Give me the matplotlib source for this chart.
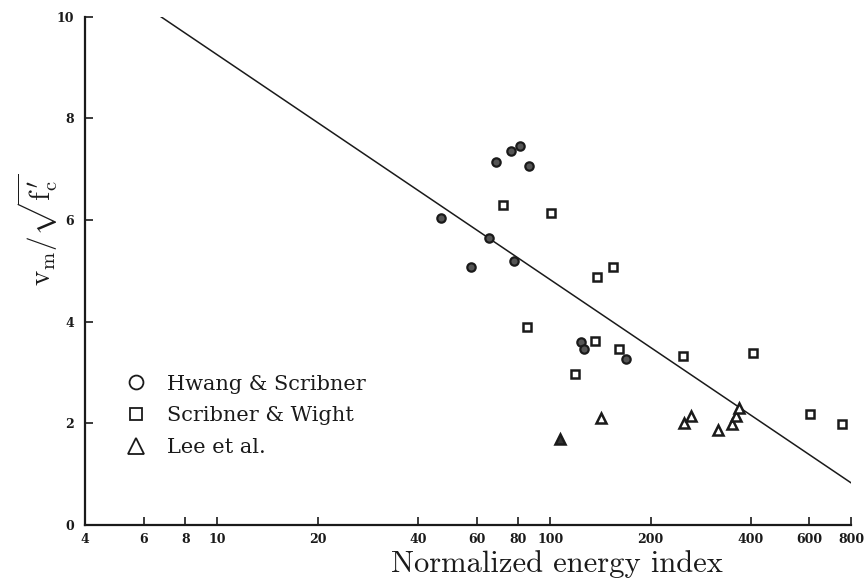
import matplotlib
matplotlib.use("Agg")
import matplotlib.pyplot as plt
from matplotlib.lines import Line2D

plt.rcParams['mathtext.fontset'] = 'cm'

# Hwang & Scribner (circles)
hs_x = [80.9, 76.4, 68.5, 86.1, 47.0, 65.5, 57.8, 77.8, 123.6, 125.9, 168.2]
hs_y = [7.46, 7.35, 7.14, 7.06, 6.03, 5.64, 5.08, 5.19, 3.60, 3.46, 3.27]

# Scribner & Wight (squares)
sw_x = [72.3, 100.7, 153.8, 138.1, 85.0, 118.9, 135.8, 161.1, 250.6, 406.4, 602.6, 750.3]
sw_y = [6.30, 6.14, 5.08, 4.87, 3.89, 2.98, 3.62, 3.46, 3.33, 3.38, 2.18, 1.99]

# Lee et al. (triangles)
lee_x = [106.6, 141.9, 251.2, 264.3, 319.9, 351.0, 361.4, 369.8]
lee_y = [1.69, 2.10, 2.00, 2.15, 1.86, 1.98, 2.14, 2.30]

# fitted line
fit_x = [6.76, 800]
fit_y = [10.0, 0.83]

xticks = [4, 6, 8, 10, 20, 40, 60, 80, 100, 200, 400, 600, 800]
yticks = [0, 2, 4, 6, 8, 10]

ink = '#1a1a1a'

fig = plt.figure(figsize=(8.64, 5.83), dpi=100)
ax = fig.add_axes([85/864, 58/583, (851-85)/864, (525-16.7)/583])

ax.plot(fit_x, fit_y, color=ink, lw=1.1)

ax.plot(hs_x, hs_y, ls='none', marker='o', ms=6, mfc='#555555', mec=ink, mew=1.6)
ax.plot(sw_x, sw_y, ls='none', marker='s', ms=5.5, mfc='white', mec=ink, mew=1.8)
ax.plot(lee_x[1:], lee_y[1:], ls='none', marker='^', ms=7, mfc='white', mec=ink, mew=1.8)
ax.plot(lee_x[:1], lee_y[:1], ls='none', marker='^', ms=7, mfc='#333333', mec=ink, mew=1.8)

ax.set_xscale('log')
ax.set_xlim(4, 800)
ax.set_ylim(0, 10)
ax.set_xticks(xticks)
ax.set_xticklabels([str(t) for t in xticks])
ax.xaxis.set_minor_locator(matplotlib.ticker.NullLocator())
ax.set_yticks(yticks)
ax.set_yticklabels([str(t) for t in yticks])

for s in ['top', 'right']:
    ax.spines[s].set_visible(False)
for s in ['left', 'bottom']:
    ax.spines[s].set_linewidth(1.6)
    ax.spines[s].set_color(ink)

ax.tick_params(axis='both', direction='in', length=6, width=1.2, color=ink,
               labelsize=9, labelcolor=ink)
ax.tick_params(axis='x', pad=6)
ax.tick_params(axis='y', pad=8)
for lab in ax.get_xticklabels() + ax.get_yticklabels():
    lab.set_fontweight('bold')
    lab.set_family('DejaVu Serif')

ax.set_xlabel('Normalized energy index', fontsize=22, family='cmr10', color=ink,
              va='center')
ax.xaxis.set_label_coords((557-85)/766, -(564-525)/508.3)
ax.set_ylabel(r"$\mathrm{v_m}/\sqrt{\mathrm{f}^{\,\prime}_{\mathrm{c}}}$", fontsize=21,
              color=ink, va='center')
ax.yaxis.set_label_coords(-(85-38)/766, (525-230)/508.3)

handles = [
    Line2D([], [], ls='none', marker='o', ms=10, mfc='white', mec=ink, mew=1.3),
    Line2D([], [], ls='none', marker='s', ms=9, mfc='white', mec=ink, mew=1.3),
    Line2D([], [], ls='none', marker='^', ms=11, mfc='white', mec=ink, mew=1.3),
]
labels = ['Hwang & Scribner', 'Scribner & Wight', 'Lee et al.']
ax.legend(handles, labels, loc='upper left', bbox_to_anchor=(0.053, 0.296),
          frameon=False, prop={'family': 'DejaVu Serif', 'size': 15},
          handlelength=1.0, handletextpad=1.0, labelspacing=0.62,
          borderpad=0, borderaxespad=0, labelcolor=ink)

fig.savefig('out.png', dpi=100)
